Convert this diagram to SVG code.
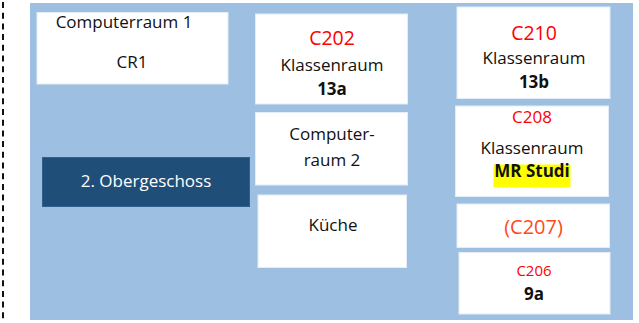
<svg xmlns="http://www.w3.org/2000/svg" width="639" height="323" viewBox="0 0 639 323">
<style>
.room{fill:#ffffff;stroke:#e4edf6;stroke-width:1}
.t{font-family:"Open Sans","Noto Sans",sans-serif;font-size:17px;fill:#111111;text-anchor:middle}
.b{font-weight:bold}
.red{fill:#ff0000}
.or{fill:#fc4a1a}
</style>
<rect width="639" height="323" fill="#ffffff"/>
<line x1="3" y1="2" x2="3" y2="323" stroke="#111111" stroke-width="2" stroke-dasharray="6 4.7"/>
<rect id="floor" x="30" y="3" width="603" height="317" fill="#9dbfe1"/>
<g id="connectors"></g>
<g id="cr1">
<rect class="room" x="37" y="12.5" width="191" height="71.5"/>
<text class="t" x="124" y="28">Computerraum 1</text>
<text class="t" x="132" y="68">CR1</text>
</g>
<g id="c202">
<rect class="room" x="255.5" y="14" width="152" height="90"/>
<text class="t red" x="332" y="45" style="font-size:19.5px">C202</text>
<text class="t" x="332" y="71">Klassenraum</text>
<text class="t b" x="332" y="95">13a</text>
</g>
<g id="cr2">
<rect class="room" x="255.5" y="112.5" width="152" height="72.5"/>
<text class="t" x="332" y="140">Computer-</text>
<text class="t" x="332" y="165.5">raum 2</text>
</g>
<g id="kueche">
<rect class="room" x="258" y="195" width="148.5" height="72.5"/>
<text class="t" x="333" y="230.5">Küche</text>
</g>
<g id="og2">
<rect x="42.5" y="157.5" width="207" height="49" fill="#1f4e79" stroke="#2e5f8e" stroke-width="1"/>
<text class="t" x="146" y="186.5" style="fill:#ffffff">2. Obergeschoss</text>
</g>
<g id="c210">
<rect class="room" x="457" y="7" width="153" height="91.5"/>
<text class="t red" x="534" y="39.5" style="font-size:19.5px">C210</text>
<text class="t" x="534" y="63.5">Klassenraum</text>
<text class="t b" x="534" y="87.5">13b</text>
</g>
<g id="c208">
<rect class="room" x="455.5" y="106" width="153" height="90.5"/>
<text class="t red" x="532" y="122.5">C208</text>
<text class="t" x="532" y="154">Klassenraum</text>
<rect x="493.5" y="164.5" width="77" height="23" fill="#ffff00"/>
<text class="t b" x="532" y="176.5">MR Studi</text>
</g>
<g id="c207">
<rect class="room" x="457" y="204" width="152.5" height="43.5"/>
<text class="t or" x="533.5" y="233.5" style="font-size:20px">(C207)</text>
</g>
<g id="c206">
<rect class="room" x="459" y="252.5" width="151" height="61.5"/>
<text class="t red" x="534" y="276" style="font-size:15px">C206</text>
<text class="t b" x="534" y="300">9a</text>
</g>
</svg>
